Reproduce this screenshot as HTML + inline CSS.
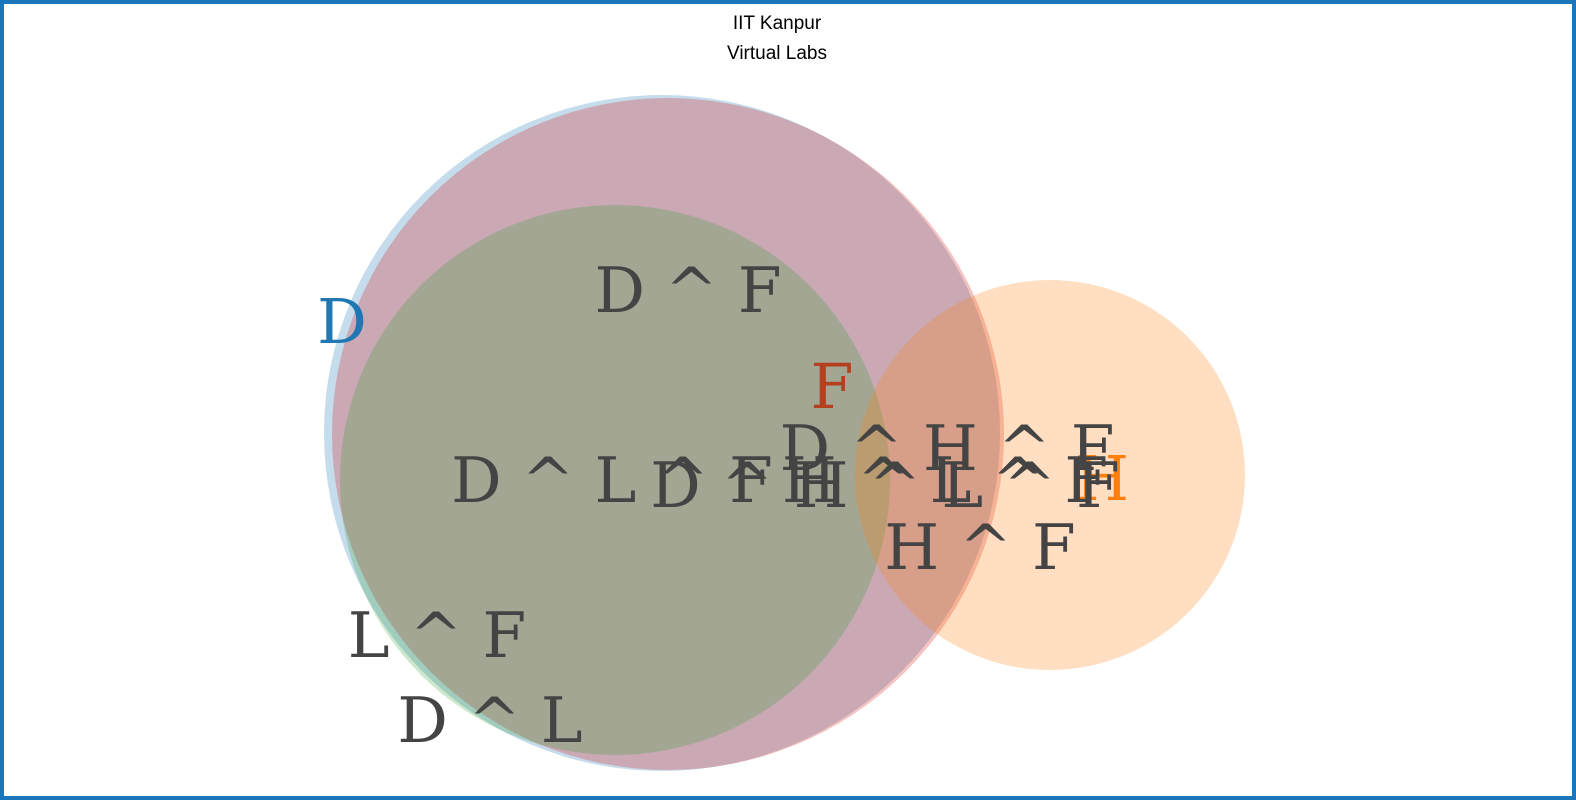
<!DOCTYPE html>
<html><head><meta charset="utf-8"><style>
html,body{margin:0;padding:0;background:#fff}
#frame{position:absolute;left:0;top:0;width:1568px;height:792px;border:4px solid #1b75bb;background:#fff}
svg{position:absolute;left:0;top:0}
text{font-family:"DejaVu Serif","Liberation Serif",serif}
</style></head><body>
<div id="frame"></div>
<svg width="1576" height="800">
<text x="777" y="29" text-anchor="middle" style="font-family:'Liberation Sans',sans-serif" font-size="19" fill="#000">IIT Kanpur</text>
<text x="777" y="59" text-anchor="middle" style="font-family:'Liberation Sans',sans-serif" font-size="19" fill="#000">Virtual Labs</text>
<g id="circles"></g>
<g id="labels"></g>
</svg>
<script>
const setNames=["D","F","L","H"];
const setCx=[662,668,615,1050];
const setCy=[433,434,480,475];
const setR=[338,336,275,195];
const setColors=["rgba(31,119,180,0.26)","rgba(214,39,40,0.28)","rgba(44,160,44,0.24)","rgba(255,127,14,0.26)"];
const setLabelX=[342,832,0,1102];
const setLabelY=[343,408,0,500];
const setLabelColor=["#1f77b4","#b5401f","#2ca02c","#ff7f0e"];
const regionLabels=["D ^ F","D ^ L ^ F","D ^ H ^ F","D ^ H ^ L ^ F","H ^ L ^ F","H ^ F","L ^ F","D ^ L"];
const regionX=[688,612,947,885,945,980,437,490];
const regionY=[312,502,470,507,502,569,657,742];
const NS="http://www.w3.org/2000/svg";
const cg=document.getElementById("circles"),lg=document.getElementById("labels");
setNames.forEach((n,i)=>{
 const c=document.createElementNS(NS,"circle");
 c.setAttribute("cx",setCx[i]);c.setAttribute("cy",setCy[i]);c.setAttribute("r",setR[i]);c.setAttribute("fill",setColors[i]);
 
 
 cg.appendChild(c);
 if(setLabelX[i]){
  const t=document.createElementNS(NS,"text");
  t.setAttribute("x",setLabelX[i]);t.setAttribute("y",setLabelY[i]);t.setAttribute("text-anchor","middle");
  t.setAttribute("font-size","62");t.setAttribute("fill",setLabelColor[i]);t.textContent=n;
  
  
  lg.appendChild(t);
 }
});
regionLabels.forEach((s,i)=>{
 const t=document.createElementNS(NS,"text");
 t.setAttribute("x",regionX[i]);t.setAttribute("y",regionY[i]);t.setAttribute("text-anchor","middle");
 t.setAttribute("font-size","63");t.setAttribute("fill","#444");
 t.textContent=s;
 
 
 lg.appendChild(t);
});
</script>
</body></html>
